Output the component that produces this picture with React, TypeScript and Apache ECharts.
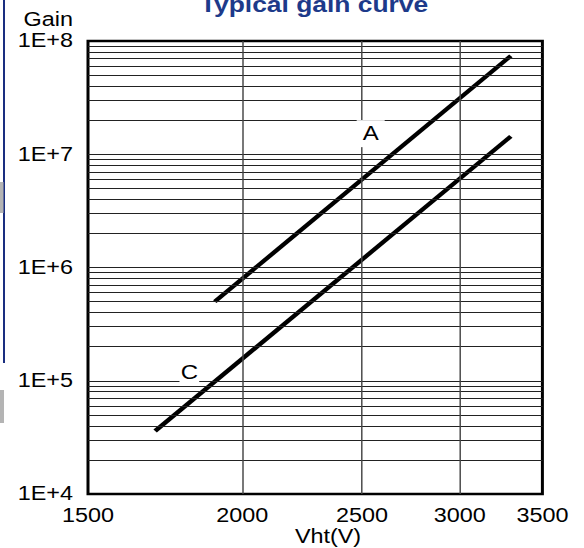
import React, { useEffect, useRef } from "react";
import * as echarts from "echarts";

// ---- data ----
const xTicks = [1500, 2000, 2500, 3000, 3500];
const yTicks = [1e4, 1e5, 1e6, 1e7, 1e8];
const seriesA: [number, number][] = [
  [1900, 5.0e5],
  [3300, 7.4e7],
];
const seriesC: [number, number][] = [
  [1700, 3.6e4],
  [3300, 1.44e7],
];
const labelA: [number, number] = [2541, 1.52e7];
const labelC: [number, number] = [1812, 1.19e5];
const verticalGrid = [2000, 2500, 3000];
const minorMultipliers = [1, 2, 3, 4, 5, 6, 7, 8, 9];
const decades = [1e4, 1e5, 1e6, 1e7];

const S = 1.2; // horizontal stretch of the reference
const W = 584 / S;
const FONT = "'Liberation Sans', Arial, sans-serif";

export default function App() {
  const ref = useRef<HTMLDivElement>(null);
  useEffect(() => {
    if (!ref.current) return;
    const chart = echarts.init(ref.current, null, { renderer: "svg" });

    const hLines: any[] = [];
    decades.forEach((d) =>
      minorMultipliers.forEach((m) => {
        const v = d * m;
        if (v > 1e4 && v < 1e8) hLines.push({ yAxis: v });
      })
    );
    const vLines = verticalGrid.map((v) => ({ xAxis: v }));

    chart.setOption({
      animation: false,
      backgroundColor: "#fff",
      textStyle: { fontFamily: FONT },
      grid: {
        left: 88 / S,
        right: 42 / S,
        top: 41,
        bottom: 54,
        show: true,
        borderColor: "#000",
        borderWidth: 2.5,
        backgroundColor: "transparent",
      },
      xAxis: {
        type: "log",
        logBase: 10,
        min: 1500,
        max: 3500,
        axisLine: { show: false },
        axisTick: { show: false },
        splitLine: { show: false },
        minorSplitLine: { show: false },
        axisLabel: {
          customValues: xTicks,
          formatter: (v: number) => String(Math.round(v)),
          fontSize: 19.5,
          color: "#000",
          fontFamily: FONT,
          margin: 12,
        },
      },
      yAxis: {
        type: "log",
        logBase: 10,
        min: 1e4,
        max: 1e8,
        axisLine: { show: false },
        axisTick: { show: false },
        splitLine: { show: false },
        axisLabel: {
          customValues: yTicks,
          formatter: (v: number) => "1E+" + Math.round(Math.log10(v)),
          fontSize: 19.5,
          color: "#000",
          fontFamily: FONT,
          margin: 12.5,
        },
      },
      series: [
        {
          type: "line",
          name: "grid",
          data: [],
          silent: true,
          markLine: {
            silent: true,
            symbol: ["none", "none"],
            label: { show: false },
            lineStyle: { color: "#222", width: 1, type: "solid" },
            data: hLines,
          },
          z: 1,
        },
        {
          type: "line",
          name: "vgrid",
          data: [],
          silent: true,
          markLine: {
            silent: true,
            symbol: ["none", "none"],
            label: { show: false },
            lineStyle: { color: "#444", width: 1.2, type: "solid" },
            data: vLines,
          },
          z: 1,
        },
        {
          type: "line",
          name: "A",
          data: seriesA,
          showSymbol: false,
          lineStyle: { color: "#000", width: 4 },
          z: 3,
          markPoint: {
            symbol: "rect",
            symbolSize: [1, 1],
            itemStyle: { color: "rgba(0,0,0,0)" },
            label: {
              show: true,
              position: "inside",
              formatter: "A",
              fontSize: 20,
              color: "#000",
              fontFamily: FONT,
              backgroundColor: "#fff",
              padding: [4, 5, 3, 5],
            },
            data: [{ coord: labelA }],
          },
        },
        {
          type: "line",
          name: "C",
          data: seriesC,
          showSymbol: false,
          lineStyle: { color: "#000", width: 4 },
          z: 3,
          markPoint: {
            symbol: "rect",
            symbolSize: [1, 1],
            itemStyle: { color: "rgba(0,0,0,0)" },
            label: {
              show: true,
              position: "inside",
              formatter: "C",
              fontSize: 20,
              color: "#000",
              fontFamily: FONT,
              backgroundColor: "#fff",
              padding: [1, 1, 0, 1],
            },
            data: [{ coord: labelC }],
          },
        },
      ],
      graphic: [
        {
          type: "text",
          x: 314 / S,
          y: 4,
          style: {
            text: "Typical gain curve",
            fontSize: 22,
            fontWeight: "bold",
            fontFamily: FONT,
            fill: "#1d3a8a",
            align: "center",
            verticalAlign: "middle",
          },
        },
        {
          type: "text",
          x: 73 / S,
          y: 19.7,
          style: {
            text: "Gain",
            fontSize: 19.5,
            fontFamily: FONT,
            fill: "#000",
            align: "right",
            verticalAlign: "middle",
          },
        },
        {
          type: "text",
          x: 328 / S,
          y: 537,
          style: {
            text: "Vht(V)",
            fontSize: 19.5,
            fontFamily: FONT,
            fill: "#000",
            align: "center",
            verticalAlign: "middle",
          },
        },
        {
          type: "rect",
          shape: { x: 3 / S, y: 0, width: 2 / S, height: 363 },
          style: { fill: "#1a2e80" },
        },
        {
          type: "rect",
          shape: { x: 0, y: 182, width: 3.5 / S, height: 31 },
          style: { fill: "#b4b4b4" },
        },
        {
          type: "rect",
          shape: { x: 0, y: 390, width: 4 / S, height: 33 },
          style: { fill: "#b4b4b4" },
        },
      ],
    });
    return () => chart.dispose();
  }, []);

  return (
    <div
      ref={ref}
      style={{
        position: "absolute",
        left: 0,
        top: 0,
        width: W + "px",
        height: "548px",
        transform: `scaleX(${S})`,
        transformOrigin: "0 0",
      }}
    />
  );
}
